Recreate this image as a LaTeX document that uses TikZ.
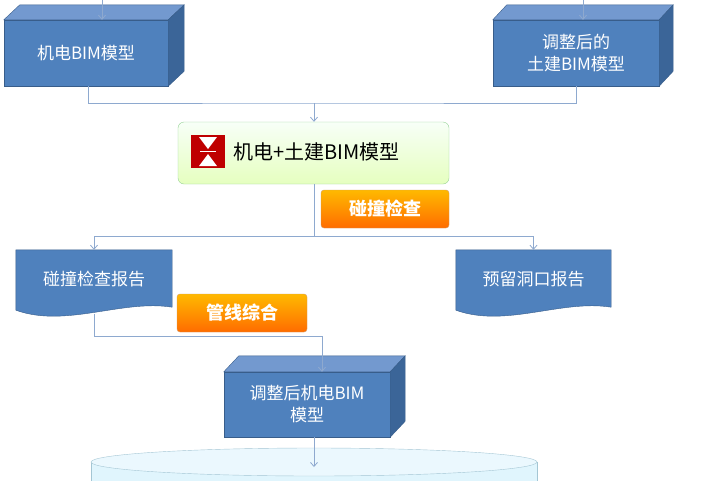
\documentclass[tikz,border=0pt]{standalone}
\usepackage{fontspec}
\setmainfont{Noto Sans CJK SC}
\usetikzlibrary{positioning,arrows.meta}
\definecolor{boxblue}{HTML}{4F81BD}
\definecolor{boxtop}{HTML}{7399CF}
\definecolor{boxside}{HTML}{3B6598}
\definecolor{boxline}{HTML}{385D8A}
\definecolor{linkblue}{HTML}{8EA9CF}
\tikzset{
  front/.style={fill=boxblue, draw=boxline, text=white, font=\fontsize{17}{22}\selectfont, align=center, inner sep=0pt},
  doc/.style={text=white, font=\fontsize{17}{20}\selectfont, inner sep=0pt},
  tag/.style={rounded corners=3pt, top color=orange!55!yellow, bottom color=orange!85!red, draw=orange!70!black!60, text=white, font=\bfseries\fontsize{18}{20}\selectfont, inner sep=0pt},
  link/.style={linkblue, line width=0.8pt},
  arr/.style={link, -{Straight Barb[length=4pt,width=7pt]}}
}
% top and side faces of a block
\newcommand\blockfaces[3]{%
  \fill[boxtop, draw=boxline] (#1.north west) -- ++(#2,-#3) -- ([xshift=#2pt,yshift=#3pt]#1.north east) -- (#1.north east) -- cycle;
  \fill[boxside, draw=boxline] (#1.north east) -- ++(#2,-#3) -- ([xshift=#2pt,yshift=#3pt]#1.south east) -- (#1.south east) -- cycle;}
% page with a wavy lower edge
\newcommand\docface[1]{%
  \fill[boxblue, draw=boxline] (#1.north west) -- (#1.north east) -- ([yshift=11pt]#1.south east)
    .. controls +(-50,-8) and +(50,18) .. ([yshift=8pt]#1.south west) -- cycle;}
\begin{document}
\begin{tikzpicture}[x=1pt,y=-1pt]
  \useasboundingbox (0,0) rectangle (720,480);
  \clip (0,0) rectangle (720,480);
  % base
  \fill[cyan!12, draw=cyan!40!gray!60] (91,462) -- (91,500) -- (537,500) -- (537,462);
  \draw[cyan!40!gray!60, fill=cyan!8] (314,462) ellipse[x radius=223, y radius=14];
  % blocks
  \node[front, minimum width=164pt, minimum height=66pt] (mep) at (86,53) {机电BIM模型};
  \blockfaces{mep}{16}{15}
  \node[front, minimum width=166pt, minimum height=66pt] (civil) at (576,53) {调整后的\\土建BIM模型};
  \blockfaces{civil}{14}{15}
  \node[front, minimum width=166pt, minimum height=65pt] (newmep) at (307,404.5) {调整后机电BIM\\模型};
  \blockfaces{newmep}{15}{16}
  % merged model
  \node[rounded corners=6pt, top color=green!3!white, bottom color=green!40!yellow!25, draw=green!40!gray!60,
        minimum width=271pt, minimum height=62pt, inner sep=0pt] (merge) at (313.5,153) {};
  \fill[red!75!black] (191,135) rectangle (225,168);
  \fill[white] (199,137) -- (217,137) -- (208,149) -- cycle;
  \fill[white] (199,166) -- (217,166) -- (208,154) -- cycle;
  \fill[white] (200,151) rectangle (216,152);
  \node[font=\fontsize{20}{24}\selectfont, anchor=west] (mergetxt) at (230,152) {机电+土建BIM模型};
  % reports
  \node[doc, minimum width=156pt, minimum height=68pt] (clash) at (94,284) {};
  \docface{clash}
  \node[doc] at (94,279) {碰撞检查报告};
  \node[doc, minimum width=155pt, minimum height=68pt] (hole) at (533.5,284) {};
  \docface{hole}
  \node[doc] at (533.5,279) {预留洞口报告};
  % links
  \draw[arr] (102,0) -- (mep.north -| 102,0);
  \draw[arr] (583,0) -- (civil.north -| 583,0);
  \coordinate (join) at (314,103);
  \draw[link] (mep.south -| 88,0) |- (join) -| (civil.south);
  \draw[arr] (join) -- (merge.north -| join);
  \coordinate (split) at (314,236);
  \draw[link] (merge.south -| split) -- (split);
  \draw[arr] (split) -| (clash.north);
  \draw[arr] (split) -| (hole.north);
  \coordinate (bend) at (94,336);
  \draw[arr] (94,314) -- (bend) -| (newmep.north -| 322,0);
  \draw[arr] (newmep.south -| 314,0) -- (314,467);
  % tags
  \node[tag, minimum width=128pt, minimum height=38pt] (check) at (385,209) {碰撞检查};
  \node[tag, minimum width=130pt, minimum height=38pt] (combine) at (242,313) {管线综合};
\end{tikzpicture}
\end{document}
